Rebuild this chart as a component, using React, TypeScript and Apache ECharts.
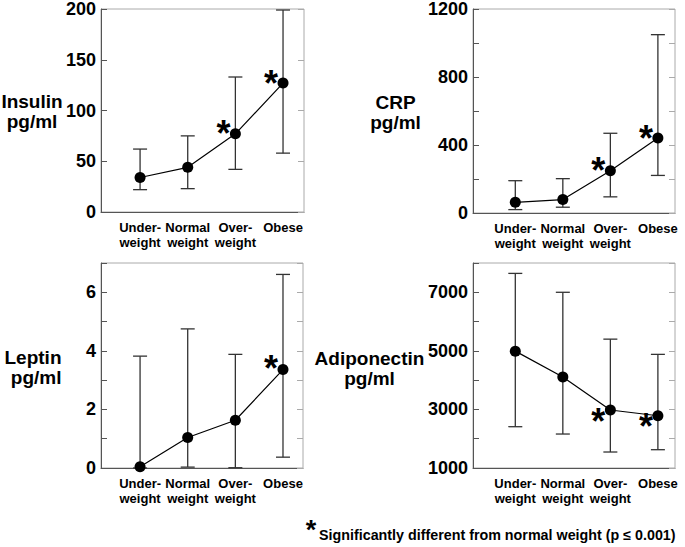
import React, { useEffect, useRef } from 'react';
import * as echarts from 'echarts';

// ---- data ----
const categories = ['Under-\nweight', 'Normal\nweight', 'Over-\nweight', 'Obese'];
const catX = [1, 2, 3, 4];

const insulinMean = [34, 44, 77, 127];
const insulinLow = [22, 23, 42, 58];
const insulinHigh = [62, 75, 133, 199];
const insulinSig = [false, false, true, true];
const insulinTickLabels = [0, 50, 100, 150, 200];

const crpMean = [63, 79, 248, 441];
const crpLow = [20, 34, 95, 221];
const crpHigh = [190, 202, 469, 1049];
const crpSig = [false, false, true, true];
const crpTickLabels = [0, 400, 800, 1200];

const leptinMean = [0.04, 1.04, 1.63, 3.36];
const leptinLow = [0, 0.03, 0.01, 0.37];
const leptinHigh = [3.82, 4.75, 3.88, 6.61];
const leptinSig = [false, false, false, true];
const leptinTickLabels = [0, 2, 4, 6];

const adipoMean = [4990, 4106, 2980, 2785];
const adipoLow = [2410, 2160, 1546, 1625];
const adipoHigh = [7645, 7000, 5400, 4880];
const adipoSig = [false, false, true, true];
const adipoTickLabels = [1000, 3000, 5000, 7000];

const footnote = 'Significantly different from normal weight (p \u2264 0.001)';

const FONT = '"Liberation Sans", Arial, Helvetica, sans-serif';

const panels = [
  {
    title: 'Insulin\npg/ml', mean: insulinMean, low: insulinLow, high: insulinHigh, sig: insulinSig,
    yMin: 0, yMax: 200, yStep: 50, yLabels: insulinTickLabels,
    grid: { left: 101, top: 8, width: 203, height: 204 }, xMin: 0.18, xMax: 4.44,
    titlePos: [32, 111], titleAlign: 'center', starDy: -5,
  },
  {
    title: 'CRP\npg/ml', mean: crpMean, low: crpLow, high: crpHigh, sig: crpSig,
    yMin: 0, yMax: 1200, yStep: 200, yLabels: crpTickLabels,
    grid: { left: 473, top: 8, width: 202, height: 205 }, xMin: 0.11, xMax: 4.36,
    titlePos: [395.5, 112.5], titleAlign: 'center', starDy: -5,
  },
  {
    title: 'Leptin\npg/ml', mean: leptinMean, low: leptinLow, high: leptinHigh, sig: leptinSig,
    yMin: 0, yMax: 7, yStep: 1, yLabels: leptinTickLabels,
    grid: { left: 101, top: 263, width: 202, height: 205 }, xMin: 0.18, xMax: 4.42,
    titlePos: [61.5, 367], titleAlign: 'right', starDy: -6,
  },
  {
    title: 'Adiponectin\npg/ml', mean: adipoMean, low: adipoLow, high: adipoHigh, sig: adipoSig,
    yMin: 1000, yMax: 8000, yStep: 1000, yLabels: adipoTickLabels,
    grid: { left: 473, top: 263, width: 202, height: 205 }, xMin: 0.11, xMax: 4.36,
    titlePos: [369.5, 368], titleAlign: 'center', starDy: 6,
  },
];

export default function App() {
  const ref = useRef<HTMLDivElement>(null);

  useEffect(() => {
    if (!ref.current) return;
    const chart = echarts.init(ref.current, undefined, { renderer: 'svg' });

    const grids: any[] = [];
    const xAxes: any[] = [];
    const yAxes: any[] = [];
    const series: any[] = [];
    const graphics: any[] = [];

    const STAR_SIZE = 36;
    const STAR_SHIFT = 5; // glyph center sits above text anchor

    panels.forEach((p, i) => {
      grids.push({ ...p.grid, show: true, borderColor: '#aaa', borderWidth: 1, backgroundColor: 'transparent' });
      xAxes.push({
        gridIndex: i, type: 'value', min: p.xMin, max: p.xMax,
        axisLine: { show: true, onZero: false, lineStyle: { color: '#555', width: 1 } },
        axisTick: { show: false }, splitLine: { show: false },
        axisLabel: {
          customValues: catX,
          formatter: (v: number) => categories[Math.round(v) - 1] ?? '',
          fontSize: 13, fontWeight: 'bold', color: '#000', fontFamily: FONT,
          lineHeight: 15, margin: 8,
        },
      });
      yAxes.push({
        gridIndex: i, type: 'value', position: 'left', min: p.yMin, max: p.yMax, interval: p.yStep,
        axisLine: { show: true, onZero: false, lineStyle: { color: '#555', width: 1 } },
        axisTick: { show: true, inside: true, length: 6, lineStyle: { color: '#555' } },
        splitLine: { show: false },
        axisLabel: {
          formatter: (v: number) => (p.yLabels.indexOf(v) >= 0 ? String(v) : ''),
          fontSize: 18, fontWeight: 'bold', color: '#000', fontFamily: FONT, margin: 5,
        },
      });
      yAxes.push({
        gridIndex: i, type: 'value', position: 'right', min: p.yMin, max: p.yMax, interval: p.yStep,
        axisLine: { show: false },
        axisTick: { show: true, inside: true, length: 6, lineStyle: { color: '#aaa' } },
        splitLine: { show: false }, axisLabel: { show: false },
      });

      const errData = catX.map((x, k) => [x, p.low[k], p.high[k]]);
      series.push({
        type: 'custom', xAxisIndex: i, yAxisIndex: i * 2, data: errData,
        encode: { x: 0, y: [1, 2] }, z: 2, silent: true,
        renderItem: (_params: any, api: any) => {
          const x = api.value(0);
          const lo = api.coord([x, api.value(1)]);
          const hi = api.coord([x, api.value(2)]);
          const cap = 7;
          const st = { stroke: '#333', lineWidth: 1.3 };
          return {
            type: 'group',
            children: [
              { type: 'line', shape: { x1: lo[0], y1: lo[1], x2: hi[0], y2: hi[1] }, style: st },
              { type: 'line', shape: { x1: hi[0] - cap, y1: hi[1], x2: hi[0] + cap, y2: hi[1] }, style: st },
              { type: 'line', shape: { x1: lo[0] - cap, y1: lo[1], x2: lo[0] + cap, y2: lo[1] }, style: st },
            ],
          };
        },
      });

      series.push({
        type: 'line', xAxisIndex: i, yAxisIndex: i * 2, z: 3, silent: true,
        data: catX.map((x, k) => [x, p.mean[k]]),
        symbol: 'circle', symbolSize: 11,
        itemStyle: { color: '#000' }, lineStyle: { color: '#000', width: 1.2 },
      });

      const starData = catX.map((x, k) => [x, p.mean[k]]).filter((_, k) => p.sig[k]);
      series.push({
        type: 'custom', xAxisIndex: i, yAxisIndex: i * 2, data: starData, z: 4, silent: true,
        encode: { x: 0, y: 1 },
        renderItem: (_params: any, api: any) => {
          const c = api.coord([api.value(0), api.value(1)]);
          return {
            type: 'text', x: c[0] - 12, y: c[1] + p.starDy + STAR_SHIFT,
            style: {
              text: '*', fill: '#000', fontSize: STAR_SIZE, fontWeight: 'bold', fontFamily: FONT,
              align: 'center', verticalAlign: 'middle',
            },
          };
        },
      });

      graphics.push({
        type: 'text', x: p.titlePos[0], y: p.titlePos[1],
        style: {
          text: p.title, fill: '#000', fontSize: 19, fontWeight: 'bold', fontFamily: FONT,
          lineHeight: 20, align: p.titleAlign, verticalAlign: 'middle',
        },
      });
    });

    graphics.push({
      type: 'text', x: 311, y: 530,
      style: { text: '*', fill: '#000', fontSize: 27, fontWeight: 'bold', fontFamily: FONT, align: 'center', verticalAlign: 'middle' },
    });
    graphics.push({
      type: 'text', x: 319, y: 535,
      style: { text: footnote, fill: '#000', fontSize: 14.3, fontWeight: 'bold', fontFamily: FONT, align: 'left', verticalAlign: 'middle' },
    });

    chart.setOption({
      animation: false,
      backgroundColor: '#fff',
      grid: grids,
      xAxis: xAxes,
      yAxis: yAxes,
      series,
      graphic: graphics,
    });

    return () => chart.dispose();
  }, []);

  return (
    <div
      ref={ref}
      style={{ position: 'fixed', left: 0, top: 0, width: 685, height: 547, background: '#fff' }}
    />
  );
}
